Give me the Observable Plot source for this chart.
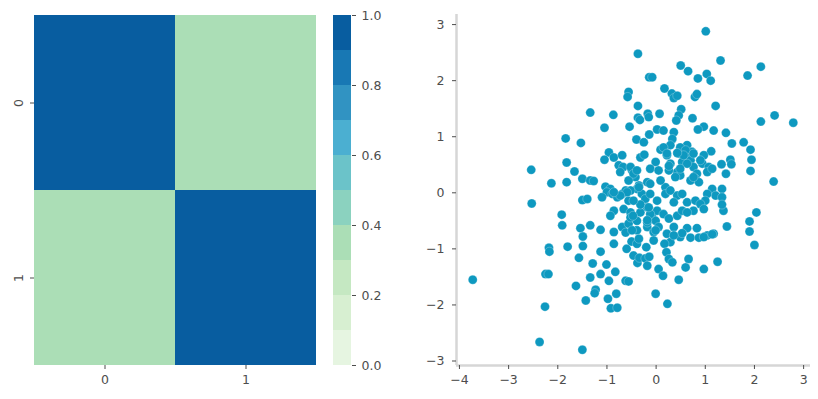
<!DOCTYPE html>
<html><head><meta charset="utf-8">
<script src="https://cdn.jsdelivr.net/npm/d3@7"></script>
<script src="https://cdn.jsdelivr.net/npm/@observablehq/plot@0.6"></script>
<style>
body{margin:0;background:#fff;}
#wrap{position:relative;width:818px;height:399px;overflow:hidden;}
#wrap svg{position:absolute;top:0;overflow:visible;}
</style></head><body><div id="wrap"></div>
<script>
// ---- data ----
const labels = ["0", "1"];
const corrValues = [1.0, 0.35, 0.35, 1.0]; // row-major correlation matrix
const colorLevels = [0, 0.1, 0.2, 0.3, 0.4, 0.5, 0.6, 0.7, 0.8, 0.9, 1.0];
const colorbarTicks = [0, 0.2, 0.4, 0.6, 0.8, 1.0];
const scatterXTicks = [-4, -3, -2, -1, 0, 1, 2, 3];
const scatterYTicks = [-3, -2, -1, 0, 1, 2, 3];
const xDomain = [-4.06, 3.14];
const yDomain = [-3.08, 3.18];
const xs = [-0.37,1.01,-0.14,-0.08,-0.56,-0.58,-0.37,-1.34,-0.87,-0.37,-0.33,-0.17,-0.15,-1.05,-0.54,-1.84,1.31,0.50,0.65,1.03,
1.11,0.85,2.13,1.86,0.17,0.32,0.36,0.43,0.79,0.83,1.21,0.07,0.51,0.46,0.41,0.74,2.13,2.41,2.79,0.97,
0.85,1.17,1.42,-0.14,0.02,0.15,0.36,0.33,-0.40,-0.25,-1.53,-0.96,-0.86,-0.69,-1.05,-0.76,-0.67,-0.73,-0.32,-0.24,
-2.54,-1.82,-1.66,-1.50,-1.34,-1.27,-2.13,-1.82,-1.03,-0.93,-0.35,-0.18,0.09,0.22,0.29,0.46,0.53,0.29,0.43,0.26,
0.49,-0.01,-0.12,0.05,-0.49,-0.42,-0.56,0.63,1.54,1.78,1.92,1.94,1.92,2.39,1.12,0.73,0.64,0.15,0.97,0.94,
1.07,1.04,1.51,1.53,1.33,1.42,0.26,0.39,0.70,0.76,0.83,0.80,0.70,0.87,0.19,0.09,-0.52,0.49,0.63,0.49,
1.14,-1.00,-0.89,-0.79,-0.69,-0.62,-0.56,-0.39,-0.29,-0.22,-0.12,0.02,0.19,0.29,0.43,0.53,0.36,-1.50,-1.40,-1.10,
-2.53,-0.86,-0.93,-0.66,-0.52,-0.46,-0.32,-0.18,-0.08,-0.01,0.02,0.15,0.26,0.43,0.53,-1.54,-1.34,-1.13,-0.86,-0.69,
-0.56,-0.39,-0.18,-0.05,0.05,0.22,0.36,0.49,-0.86,-0.50,-0.39,-0.05,0.29,1.14,1.34,1.21,1.34,1.04,1.00,0.63,
0.80,0.90,0.97,0.76,0.63,1.37,1.34,2.04,1.90,1.90,2.00,1.44,1.17,1.04,0.83,0.63,0.70,0.87,-1.92,-1.91,
-1.49,-1.49,-0.20,-0.18,-0.52,-0.12,0.53,-2.18,-2.17,-1.80,-1.13,-1.57,-1.29,-1.01,-0.83,-1.13,-2.25,-2.19,-1.34,-0.96,
-0.62,-0.56,-1.63,-1.23,-1.25,-0.81,-0.98,-1.43,-2.26,-0.92,-0.79,-2.37,-1.50,-3.73,-0.46,-0.38,-0.34,-0.22,-0.14,-0.18,
-0.60,-0.01,0.23,0.05,0.14,0.46,0.17,0.21,0.26,0.33,0.66,0.60,1.25,0.97,-0.32,-0.39,
-0.46,-0.39,0.60,0.76,0.90,0.56,0.76,0.22,0.43,0.36,0.97,1.14,-0.35,-0.12,-0.01,-0.18,-0.35,-0.59,-0.46,-0.15,
-0.73,-0.86,-0.52,-0.47,-0.62,-0.49];
const ys = [2.48,2.88,2.06,2.06,1.80,1.71,1.55,1.43,1.39,1.34,1.30,1.41,1.35,1.16,1.18,0.97,2.36,2.27,2.17,2.12,
2.00,2.04,2.25,2.09,1.86,1.77,1.69,1.73,1.71,1.76,1.55,1.41,1.49,1.38,1.29,1.33,1.27,1.38,1.25,1.18,
1.13,1.11,1.07,1.04,1.13,1.11,1.08,0.96,0.95,0.90,0.89,0.72,0.63,0.67,0.59,0.49,0.46,0.37,0.63,0.68,
0.41,0.54,0.38,0.25,0.22,0.21,0.17,0.19,0.11,0.07,0.13,0.19,0.77,0.67,0.85,0.70,0.55,0.52,0.37,0.40,
0.31,0.55,0.43,0.40,0.40,0.28,0.22,0.85,0.88,0.90,0.77,0.59,0.39,0.20,0.74,0.73,0.67,0.81,0.67,0.52,
0.46,0.37,0.59,0.51,0.51,0.34,0.48,0.28,0.58,0.46,0.34,0.25,0.22,0.19,0.10,0.22,0.46,0.81,0.52,0.43,
0.43,0.01,-0.02,-0.08,-0.02,0.04,-0.14,0.07,-0.02,-0.11,-0.02,-0.14,-0.02,0.04,-0.05,-0.02,-0.17,-0.13,-0.11,-0.08,
-0.19,-0.32,-0.41,-0.29,-0.35,-0.44,-0.35,-0.26,-0.44,-0.50,-0.32,-0.38,-0.46,-0.41,-0.32,-0.63,-0.58,-0.66,-0.70,-0.61,
-0.55,-0.67,-0.61,-0.70,-0.61,-0.73,-0.61,-0.79,-0.91,-0.87,-0.91,-0.85,-0.88,0.07,0.07,-0.05,-0.08,-0.02,-0.14,-0.17,
-0.14,-0.20,-0.29,-0.32,-0.35,-0.32,-0.21,-0.35,-0.51,-0.69,-0.93,-0.60,-0.73,-0.76,-0.63,-0.63,-0.80,-0.80,-0.39,-0.58,
-0.78,-0.95,-0.97,-0.53,0.04,0.16,-0.72,-0.98,-1.05,-0.96,-1.05,-1.16,-1.26,-1.28,-1.41,-1.45,-1.45,-1.45,-1.51,-1.57,
-1.57,-1.58,-1.66,-1.73,-1.79,-1.80,-1.89,-1.92,-2.03,-2.06,-2.05,-2.66,-2.80,-1.55,-1.12,-1.25,-1.16,-1.17,-1.14,-1.30,
-1.00,-1.80,-1.98,-1.36,-1.48,-1.55,-0.91,-1.06,-1.18,-1.24,-1.18,-1.33,-1.23,-1.36,-0.21,-0.50,
0.34,0.40,0.76,0.70,0.58,0.67,0.28,0.70,0.71,-0.76,-0.79,-0.74,-0.82,-0.38,-0.67,-0.49,0.10,0.01,-0.14,-0.26,
-0.05,0.01,-0.44,-0.41,-0.71,-0.67];

// ---- build ----
const gnbu = d3.piecewise(d3.interpolateRgb, d3.schemeGnBu[9]);
const palette = d3.range(1, 11).map(i => gnbu(i / 11));
const colorScale = {type: "threshold", domain: colorLevels.slice(1, -1), range: palette};
const font = {fontFamily: "'DejaVu Sans', sans-serif", fontSize: "12.5px", color: "#4d4d4d", background: "transparent"};

const cells = labels.flatMap((r, i) => labels.map((c, j) => ({row: r, col: c, value: corrValues[i * labels.length + j]})));
const heat = Plot.plot({
  width: 330, height: 399, marginLeft: 34, marginRight: 14, marginTop: 15, marginBottom: 34,
  style: font,
  x: {domain: labels, padding: 0, label: null},
  y: {domain: labels, padding: 0, label: null},
  color: colorScale,
  marks: [
    Plot.cell(cells, {x: "col", y: "row", fill: "value", inset: 0, shapeRendering: "crispEdges"}),
    Plot.axisX({tickSize: 4, tickPadding: 6, label: null}),
    Plot.axisY({tickSize: 4, tickPadding: 8, tickRotate: -90, label: null})
  ]
});

const bins = d3.range(colorLevels.length - 1).map(i => ({y1: colorLevels[i], y2: colorLevels[i + 1], mid: (colorLevels[i] + colorLevels[i + 1]) / 2}));
const cbar = Plot.plot({
  width: 80, height: 399, marginLeft: 13, marginRight: 49, marginTop: 15, marginBottom: 34,
  style: font,
  y: {domain: [0, 1], label: null},
  color: colorScale,
  marks: [
    Plot.barY(bins, {y1: "y1", y2: "y2", fill: "mid", inset: 0, shapeRendering: "crispEdges"}),
    Plot.axisY({anchor: "right", ticks: colorbarTicks, tickFormat: d3.format(".1f"), tickSize: 4, tickPadding: 6, label: null})
  ]
});

const points = xs.map((x, i) => ({x, y: ys[i]}));
const fmt = d3.format("d");
const scatter = Plot.plot({
  width: 418, height: 399, marginLeft: 56, marginRight: 8, marginTop: 14, marginBottom: 34,
  style: font,
  x: {domain: xDomain, label: null},
  y: {domain: yDomain, label: null},
  marks: [
    Plot.ruleX([xDomain[0]], {stroke: "#d6d6d6", strokeWidth: 2.5}),
    Plot.ruleY([yDomain[0]], {stroke: "#d6d6d6", strokeWidth: 2.5}),
    Plot.axisX({ticks: scatterXTicks, tickFormat: fmt, tickSize: 4, tickPadding: 6, label: null}),
    Plot.axisY({ticks: scatterYTicks, tickFormat: fmt, tickSize: 4, tickPadding: 8, label: null}),
    Plot.dot(points, {x: "x", y: "y", r: 4.5, fill: "#0e99c0", stroke: "white", strokeWidth: 0.25})
  ]
});

const wrap = document.getElementById("wrap");
[[heat, 0], [cbar, 320], [scatter, 400]].forEach(([svg, left]) => {
  svg.style.left = left + "px";
  wrap.appendChild(svg);
});
</script></body></html>
